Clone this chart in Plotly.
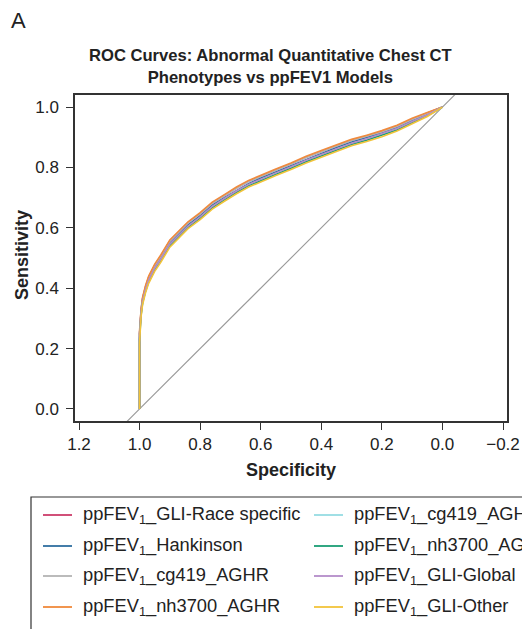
import plotly.graph_objects as go

# ---- data ----
specificity = [1.0, 1.0, 0.995, 0.99, 0.98, 0.97, 0.95, 0.93, 0.90, 0.87, 0.84, 0.80, 0.76, 0.72,
               0.68, 0.64, 0.60, 0.55, 0.50, 0.45, 0.40, 0.35, 0.30, 0.25, 0.20, 0.15, 0.10, 0.05, 0.0]

sens_gli_race = [0.0, 0.25, 0.326, 0.366, 0.406, 0.436, 0.476, 0.506, 0.557, 0.587, 0.617, 0.647, 0.682, 0.707,
                 0.732, 0.754, 0.772, 0.792, 0.812, 0.834, 0.853, 0.872, 0.890, 0.904, 0.919, 0.937, 0.960, 0.980, 1.0]
sens_hankinson = [0.0, 0.25, 0.320, 0.360, 0.400, 0.430, 0.470, 0.500, 0.550, 0.580, 0.610, 0.640, 0.675, 0.700,
                  0.724, 0.746, 0.765, 0.785, 0.806, 0.827, 0.846, 0.866, 0.884, 0.898, 0.914, 0.932, 0.955, 0.976, 1.0]
sens_cg419_aghr = [0.0, 0.25, 0.327, 0.366, 0.405, 0.435, 0.475, 0.505, 0.556, 0.586, 0.616, 0.646, 0.681, 0.706,
                   0.731, 0.753, 0.771, 0.791, 0.811, 0.833, 0.852, 0.871, 0.889, 0.903, 0.918, 0.936, 0.959, 0.979, 1.0]
sens_nh3700_aghr = [0.0, 0.26, 0.330, 0.370, 0.410, 0.440, 0.480, 0.510, 0.560, 0.590, 0.620, 0.650, 0.685, 0.710,
                    0.735, 0.757, 0.775, 0.795, 0.815, 0.837, 0.856, 0.875, 0.893, 0.907, 0.922, 0.940, 0.963, 0.982, 1.0]
sens_cg419_agh = [0.0, 0.24, 0.313, 0.353, 0.393, 0.423, 0.463, 0.493, 0.543, 0.573, 0.603, 0.633, 0.668, 0.694,
                  0.719, 0.741, 0.759, 0.779, 0.799, 0.821, 0.840, 0.859, 0.878, 0.892, 0.908, 0.926, 0.950, 0.972, 1.0]
sens_nh3700_agh = [0.0, 0.23, 0.311, 0.351, 0.391, 0.421, 0.461, 0.491, 0.541, 0.571, 0.601, 0.631, 0.666, 0.692,
                   0.717, 0.739, 0.757, 0.777, 0.797, 0.819, 0.838, 0.857, 0.876, 0.890, 0.906, 0.924, 0.948, 0.971, 1.0]
sens_gli_global = [0.0, 0.24, 0.316, 0.356, 0.396, 0.426, 0.466, 0.496, 0.546, 0.576, 0.606, 0.636, 0.671, 0.697,
                   0.722, 0.744, 0.762, 0.782, 0.802, 0.824, 0.843, 0.862, 0.880, 0.895, 0.911, 0.929, 0.952, 0.974, 1.0]
sens_gli_other = [0.0, 0.22, 0.306, 0.346, 0.386, 0.416, 0.456, 0.486, 0.536, 0.567, 0.597, 0.627, 0.662, 0.688,
                  0.713, 0.735, 0.753, 0.773, 0.793, 0.815, 0.834, 0.853, 0.872, 0.886, 0.902, 0.921, 0.945, 0.969, 1.0]

series_names = ["ppFEV<sub>1</sub>_GLI-Race specific", "ppFEV<sub>1</sub>_Hankinson",
                "ppFEV<sub>1</sub>_cg419_AGHR", "ppFEV<sub>1</sub>_nh3700_AGHR",
                "ppFEV<sub>1</sub>_cg419_AGH", "ppFEV<sub>1</sub>_nh3700_AGH",
                "ppFEV<sub>1</sub>_GLI-Global", "ppFEV<sub>1</sub>_GLI-Other"]
series_values = [sens_gli_race, sens_hankinson, sens_cg419_aghr, sens_nh3700_aghr,
                 sens_cg419_agh, sens_nh3700_agh, sens_gli_global, sens_gli_other]
series_colors = ["#CC3D6A", "#2F6FA0", "#B4B4B4", "#F08A3C",
                 "#96DCE3", "#1A9E74", "#B48CC9", "#F2C33A"]

diag_x = [1.1, -0.1]
diag_y = [-0.1, 1.1]

x_ticks = [1.2, 1.0, 0.8, 0.6, 0.4, 0.2, 0.0, -0.2]
x_ticktext = ["1.2", "1.0", "0.8", "0.6", "0.4", "0.2", "0.0", "\u22120.2"]
y_ticks = [0.0, 0.2, 0.4, 0.6, 0.8, 1.0]
y_ticktext = ["0.0", "0.2", "0.4", "0.6", "0.8", "1.0"]

FONT = "Liberation Sans, Arial, Helvetica, sans-serif"
TXT = "#222222"

W, H = 522, 629
# plot area in window pixels
L, R, T, B = 75, 507, 95, 421


def px(xp):
    return (xp - L) / (R - L)


def py(yp):
    return (B - yp) / (B - T)


fig = go.Figure()

fig.add_trace(go.Scatter(x=diag_x, y=diag_y, mode="lines",
                         line=dict(color="#999999", width=1.1), showlegend=False, hoverinfo="skip"))

for name, vals, col in zip(series_names, series_values, series_colors):
    fig.add_trace(go.Scatter(x=specificity, y=vals, mode="lines", name=name,
                             line=dict(color=col, width=1.6), showlegend=False))

axis_common = dict(showgrid=False, zeroline=False, showline=True, mirror=True,
                   linecolor="#333333", linewidth=1.5, ticks="outside", ticklen=7,
                   tickwidth=1.2, tickcolor="#333333",
                   tickfont=dict(family=FONT, size=17, color=TXT))

fig.update_xaxes(range=[1.2132, -0.2132], tickvals=x_ticks, ticktext=x_ticktext, **axis_common)
fig.update_yaxes(range=[-0.04, 1.04], tickvals=y_ticks, ticktext=y_ticktext,
                 ticklabelstandoff=4, **axis_common)

annotations = [
    dict(text="A", x=px(9), y=py(20), xref="paper", yref="paper", xanchor="left", yanchor="middle",
         showarrow=False, font=dict(family=FONT, size=22, color=TXT)),
    dict(text="<b>ROC Curves: Abnormal Quantitative Chest CT<br>Phenotypes vs ppFEV1 Models</b>",
         x=px(270), y=py(66), xref="paper", yref="paper", xanchor="center", yanchor="middle",
         showarrow=False, font=dict(family=FONT, size=16.6, color=TXT)),
    dict(text="<b>Sensitivity</b>", x=px(22), y=py(255), xref="paper", yref="paper",
         xanchor="center", yanchor="middle", textangle=-90, showarrow=False,
         font=dict(family=FONT, size=18, color=TXT)),
    dict(text="<b>Specificity</b>", x=px(291), y=py(470), xref="paper", yref="paper",
         xanchor="center", yanchor="middle", showarrow=False,
         font=dict(family=FONT, size=18, color=TXT)),
]

shapes = [
    dict(type="rect", xref="paper", yref="paper", x0=px(31), x1=px(560), y0=py(497), y1=py(660),
         line=dict(color="#333333", width=1.2), fillcolor="rgba(0,0,0,0)", layer="above"),
]

row_y = [515, 546, 576, 607]
col_x = [(43, 72, 81), (314, 343, 352)]
for i, (name, col) in enumerate(zip(series_names, series_colors)):
    c = i // 4
    r = i % 4
    x0, x1, xt = col_x[c]
    shapes.append(dict(type="line", xref="paper", yref="paper", x0=px(x0), x1=px(x1),
                       y0=py(row_y[r]), y1=py(row_y[r]), line=dict(color=col, width=1.8)))
    annotations.append(dict(text=name, x=px(xt), y=py(row_y[r]), xref="paper", yref="paper",
                            xanchor="left", yanchor="middle", showarrow=False,
                            font=dict(family=FONT, size=18.3, color=TXT)))

fig.update_layout(
    width=W, height=H,
    margin=dict(l=L, r=W - R, t=T, b=H - B, autoexpand=False),
    paper_bgcolor="white", plot_bgcolor="white",
    showlegend=False,
    annotations=annotations, shapes=shapes,
    font=dict(family=FONT, color=TXT),
)

fig.write_html("out.html",
               config={"displayModeBar": False},
               post_script="document.body.style.margin='0';document.body.style.overflow='hidden';")
